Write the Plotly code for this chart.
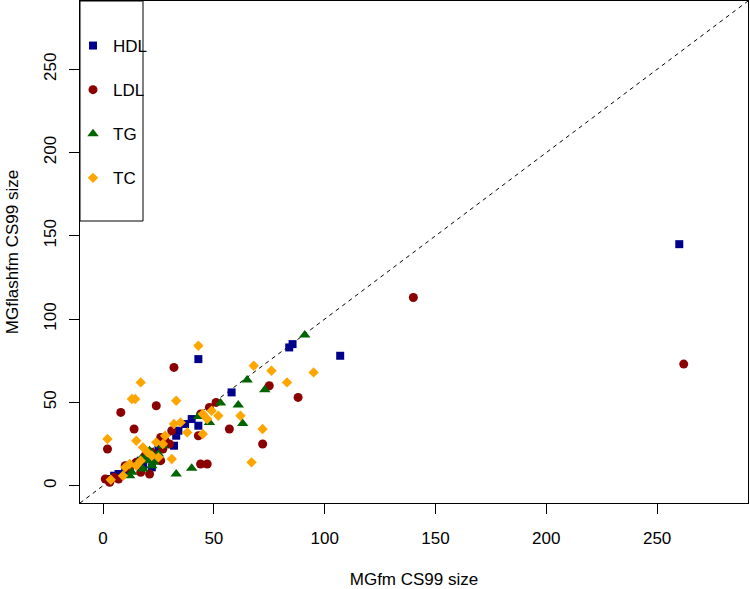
import plotly.graph_objects as go

# ---- data ----
hdl_x = [3, 5, 7, 10, 12, 15, 17, 18, 20, 22, 24, 25, 27, 28, 32, 33, 34, 37, 40, 43, 43, 58, 84, 85.5, 107, 260]
hdl_y = [4, 6, 7, 9, 11, 13, 15, 12, 16, 11, 19, 22, 25, 26, 24, 30, 33, 37, 40, 36, 76, 56, 83, 85, 78, 145]

ldl_x = [1, 3, 5, 7, 2, 8, 14, 10, 12, 15, 17, 21, 19, 22, 26, 26, 27, 28, 30, 31, 32, 24, 43, 44, 47, 44, 48, 51, 57, 72, 75, 88, 140, 262]
ldl_y = [4, 2, 5, 4, 22, 44, 34, 12, 10, 14, 8, 7, 18, 20, 15, 29, 22, 27, 25, 33, 71, 48, 30, 13, 13, 43, 47, 50, 34, 25, 60, 53, 113, 73]

tg_x = [12, 13, 15, 17, 18, 19, 20, 21, 22, 23, 25, 27, 33, 40, 43, 48, 53, 61, 63, 65, 73, 91]
tg_y = [6, 8, 13, 16, 10, 17, 15, 21, 12, 14, 19, 24, 7, 10.5, 41.5, 38, 49.6, 48.5, 37.4, 63.5, 57.6, 90.5]

tc_x = [2, 3.5, 9, 10, 12, 13, 14.5, 15, 15, 17, 17, 18, 20, 22, 24, 25, 27, 28, 31, 32, 33, 35, 38, 43, 45, 45, 47, 49, 52, 62, 67, 68, 72, 76, 83, 95]
tc_y = [28, 3.6, 6, 11, 13, 52, 52, 27, 12, 62, 15, 23, 20, 18, 26, 17, 25, 30, 16, 37, 51, 38, 32, 84, 31, 43, 40, 45, 42, 42, 14, 72, 34, 69, 62, 68]

series_names = ["HDL", "LDL", "TG", "TC"]
series_x = [hdl_x, ldl_x, tg_x, tc_x]
series_y = [hdl_y, ldl_y, tg_y, tc_y]
series_colors = ["#00008B", "#8B0000", "#006400", "#FFA500"]
series_symbols = ["square", "circle", "triangle-up", "diamond"]
series_sizes = [8, 9, 10, 8]

axis_range = [-10.4, 291]
tick_vals = [0, 50, 100, 150, 200, 250]

FONT = "Liberation Sans, Arial, Helvetica, sans-serif"
FS = 17

fig = go.Figure()
for i, name in enumerate(series_names):
    fig.add_trace(go.Scatter(
        x=series_x[i], y=series_y[i], mode="markers", name=name,
        legendgroup=name,
        marker=dict(color=series_colors[i], symbol=series_symbols[i],
                    size=series_sizes[i], line=dict(width=0)),
    ))

# identity line y = x (dashed), spanning the axis range
fig.add_shape(type="line", xref="x", yref="y",
              x0=axis_range[0], y0=axis_range[0], x1=axis_range[1], y1=axis_range[1],
              line=dict(color="black", width=1, dash="4px,4px"), layer="below")

# legend frame (white box, drawn over the points like R's legend)
fig.add_shape(type="rect", xref="paper", yref="paper",
              x0=0, x1=63 / 668, y0=1 - 220 / 502, y1=1,
              line=dict(color="black", width=1), fillcolor="white", layer="above")

axis_common = dict(
    range=axis_range, tickvals=tick_vals, ticks="outside", ticklen=10,
    tickcolor="black", showline=True, linecolor="black", linewidth=1,
    mirror=True, showgrid=False, zeroline=False, automargin=False,
    tickfont=dict(family=FONT, size=FS, color="black"),
)

fig.update_layout(
    width=750, height=589,
    margin=dict(l=80, r=2, t=1, b=86, autoexpand=False),
    paper_bgcolor="white", plot_bgcolor="white",
    font=dict(family=FONT, size=FS, color="black"),
    xaxis=dict(**axis_common, ticklabelstandoff=10,
               title=dict(text="MGfm CS99 size", standoff=27,
                          font=dict(family=FONT, size=FS))),
    yaxis=dict(**axis_common, tickangle=-90, ticklabelstandoff=6,
               title=dict(text="MGflashfm CS99 size", standoff=18,
                          font=dict(family=FONT, size=FS))),
    legend=dict(x=-7 / 668, y=1 - 27 / 502, xanchor="left", yanchor="top",
                borderwidth=0, bgcolor="rgba(0,0,0,0)",
                tracegroupgap=19, font=dict(family=FONT, size=FS)),
    showlegend=True,
)

fig.write_html("out.html",
               config={"displayModeBar": False},
               post_script="document.body.style.margin='0';document.body.style.overflow='hidden';")
